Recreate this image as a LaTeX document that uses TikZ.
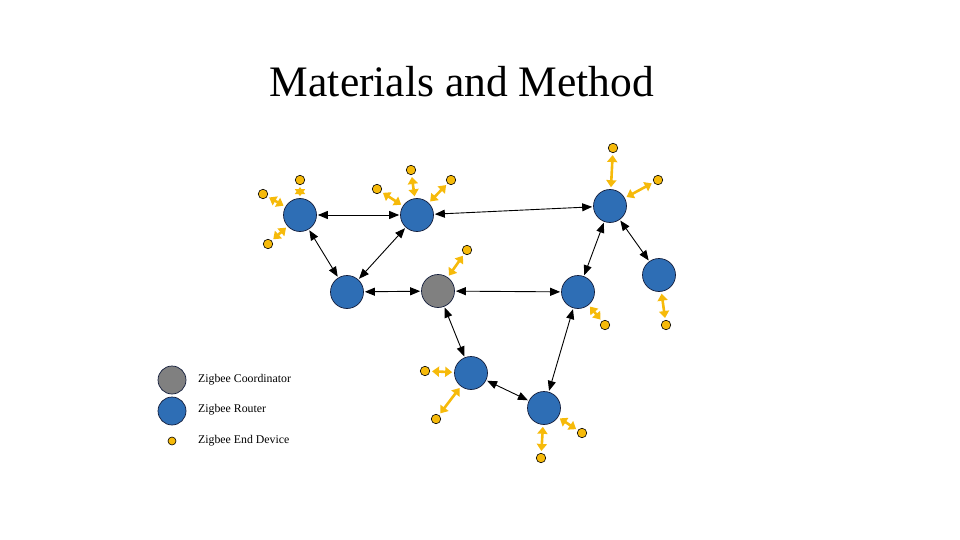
\documentclass[tikz,border=0pt]{standalone}
\usepackage{fontspec}
\setmainfont{Liberation Serif}
\usetikzlibrary{arrows.meta}
\definecolor{zblue}{RGB}{46,110,181}
\definecolor{zgray}{RGB}{128,128,128}
\definecolor{zyel}{RGB}{246,186,10}
\definecolor{zedge}{RGB}{20,30,60}
\tikzset{
  router/.style={circle, fill=zblue, draw=zedge, line width=0.7pt, minimum size=33pt, inner sep=0pt},
  coordnode/.style={circle, fill=zgray, draw=zedge, line width=0.7pt, minimum size=33pt, inner sep=0pt},
  enddev/.style={circle, fill=zyel, draw=black, line width=0.6pt, minimum size=9.5pt, inner sep=0pt},
  link/.style={line width=0.9pt, {Triangle[length=10pt,width=8pt]}-{Triangle[length=10pt,width=8pt]}, shorten <=1pt, shorten >=1pt},
  ylink/.style={draw=zyel, line width=2.6pt, {Triangle[length=7pt,width=10pt]}-{Triangle[length=7pt,width=10pt]}, shorten <=2pt, shorten >=2pt},
  legtext/.style={anchor=west, font=\fontsize{11.8}{13}\selectfont, inner sep=0pt}
}
\begin{document}
\begin{tikzpicture}[x=1pt,y=-1pt]
\useasboundingbox (0,0) rectangle (960,540);
\node (title) at (462,82) {\fontsize{43.5}{50}\selectfont Materials and Method};
% routers
\node[router] (A) at (300,215) {};
\node[router] (B) at (417,215) {};
\node[router] (C) at (347,292) {};
\node[coordnode] (K) at (438,291) {};
\node[router] (D) at (610,206) {};
\node[router] (E) at (659,275) {};
\node[router] (F) at (578,292) {};
\node[router] (G) at (471,373) {};
\node[router] (H) at (544,408) {};
% end devices
\node[enddev] (a1) at (263,194) {};
\node[enddev] (a2) at (300,180) {};
\node[enddev] (a3) at (268,244) {};
\node[enddev] (b1) at (377,189) {};
\node[enddev] (b2) at (411,170) {};
\node[enddev] (b3) at (451,180) {};
\node[enddev] (k1) at (467,250) {};
\node[enddev] (f1) at (605,325) {};
\node[enddev] (e1) at (666,325) {};
\node[enddev] (d1) at (613,148) {};
\node[enddev] (d2) at (658,180) {};
\node[enddev] (g1) at (425,371) {};
\node[enddev] (g2) at (436,419) {};
\node[enddev] (h1) at (541,458) {};
\node[enddev] (h2) at (582,433) {};
% black links
\draw[link] (A) -- (B);
\draw[link] (A) -- (C);
\draw[link] (B) -- (C);
\draw[link] (C) -- (K);
\draw[link] (K) -- (F);
\draw[link] (B) -- (D);
\draw[link] (D) -- (F);
\draw[link] (D) -- (E);
\draw[link] (K) -- (G);
\draw[link] (G) -- (H);
\draw[link] (F) -- (H);
% yellow links
\draw[ylink] (A) -- (a1);
\draw[ylink] (A) -- (a2);
\draw[ylink] (A) -- (a3);
\draw[ylink] (B) -- (b1);
\draw[ylink] (B) -- (b2);
\draw[ylink] (B) -- (b3);
\draw[ylink] (K) -- (k1);
\draw[ylink] (F) -- (f1);
\draw[ylink] (E) -- (e1);
\draw[ylink] (D) -- (d1);
\draw[ylink] (D) -- (d2);
\draw[ylink] (G) -- (g1);
\draw[ylink] (G) -- (g2);
\draw[ylink] (H) -- (h1);
\draw[ylink] (H) -- (h2);
% legend
\node[coordnode, minimum size=28pt] (lk) at (172,380) {};
\node[router, minimum size=28pt] (lr) at (172,411) {};
\node[enddev, minimum size=8pt] (le) at (172,441) {};
\node[legtext] (lkt) at (198,380) {Zigbee Coordinator};
\node[legtext] (lrt) at (198,410) {Zigbee Router};
\node[legtext] (let) at (198,441) {Zigbee End Device};
\end{tikzpicture}
\end{document}
